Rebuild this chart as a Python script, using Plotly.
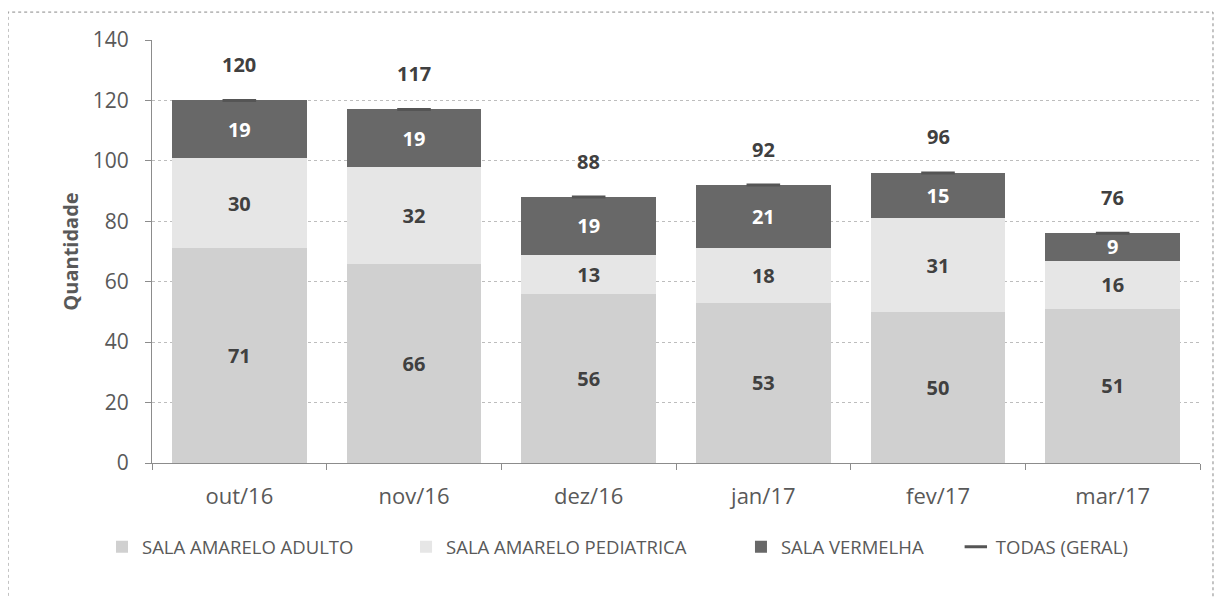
import plotly.graph_objects as go

categories = ["out/16", "nov/16", "dez/16", "jan/17", "fev/17", "mar/17"]
adulto = [71, 66, 56, 53, 50, 51]
pediatrica = [30, 32, 13, 18, 31, 16]
vermelha = [19, 19, 19, 21, 15, 9]
total = [120, 117, 88, 92, 96, 76]
y_ticks = [0, 20, 40, 60, 80, 100, 120, 140]

FONT = "Open Sans"
fig = go.Figure()

common_bar = dict(textposition="inside", insidetextanchor="middle",
                  textangle=0, constraintext="none")

fig.add_trace(go.Bar(
    x=categories, y=adulto, name="SALA AMARELO ADULTO",
    marker=dict(color="#d0d0d0", line=dict(width=0)),
    text=adulto, textfont=dict(family=FONT, size=20, color="#404040", weight="bold"),
    legend="legend", **common_bar,
))
fig.add_trace(go.Bar(
    x=categories, y=pediatrica, name="SALA AMARELO PEDIATRICA",
    marker=dict(color="#e6e6e6", line=dict(width=0)),
    text=pediatrica, textfont=dict(family=FONT, size=20, color="#404040", weight="bold"),
    legend="legend2", **common_bar,
))
fig.add_trace(go.Bar(
    x=categories, y=vermelha, name="SALA VERMELHA",
    marker=dict(color="#686868", line=dict(width=0)),
    text=vermelha, textfont=dict(family=FONT, size=20, color="#ffffff", weight="bold"),
    legend="legend3", **common_bar,
))
fig.add_trace(go.Scatter(
    x=categories, y=total, name="TODAS (GERAL)", mode="markers",
    marker=dict(symbol="line-ew", size=24, line=dict(width=3, color="#555555")),
    legend="legend4",
))

for c, t in zip(categories, total):
    fig.add_annotation(x=c, y=t, text=str(t), showarrow=False, yshift=36,
                       font=dict(family=FONT, size=20, color="#404040", weight="bold"))

# outer dotted frame
fig.add_shape(type="rect", xref="paper", yref="paper",
              x0=-0.1374, x1=1.0124, y0=-0.36, y1=1.066,
              line=dict(color="#888888", width=1, dash="dot"))

leg_common = dict(orientation="h", yanchor="middle", y=-0.199, xanchor="left",
                  font=dict(family=FONT, size=18.5, color="#595959"),
                  bgcolor="rgba(0,0,0,0)", itemwidth=30)

fig.update_layout(
    width=1206, height=589,
    margin=dict(l=144, r=14, t=32, b=134, autoexpand=False),
    paper_bgcolor="white", plot_bgcolor="white",
    barmode="stack", bargap=0.23,
    showlegend=True,
    legend=dict(x=-0.0477, **leg_common),
    legend2=dict(x=0.2424, **leg_common),
    legend3=dict(x=0.562, **leg_common),
    legend4=dict(x=0.767, **leg_common),
    font=dict(family=FONT, color="#595959"),
)

fig.update_yaxes(
    range=[0, 140], tickvals=y_ticks, ticktext=[str(v) for v in y_ticks],
    showgrid=True, gridcolor="#bdbdbd", griddash="dot", gridwidth=1,
    showline=True, linecolor="#8c8c8c", linewidth=1,
    ticks="outside", ticklen=6, tickcolor="#8c8c8c",
    tickfont=dict(family=FONT, size=21, color="#595959"),
    ticklabelstandoff=12, zeroline=False, automargin=False,
    title=dict(text="Quantidade", standoff=8,
               font=dict(family=FONT, size=20, color="#595959", weight="bold")),
)
fig.update_xaxes(
    showline=True, linecolor="#8c8c8c", linewidth=1,
    ticks="outside", ticklen=6, tickcolor="#8c8c8c", tickson="boundaries",
    tickfont=dict(family=FONT, size=22, color="#595959"),
    ticklabelstandoff=14, automargin=False,
)

fig.write_html("out.html")
